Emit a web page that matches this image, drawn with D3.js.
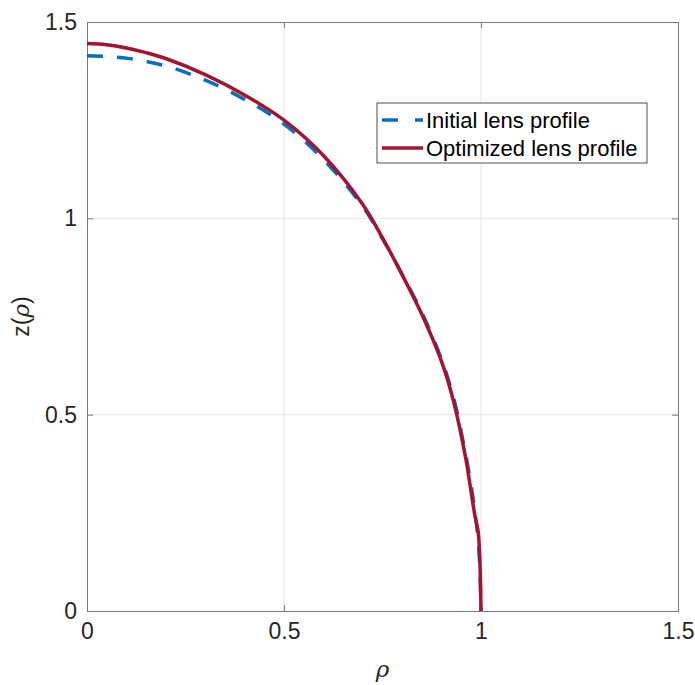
<!DOCTYPE html>
<html>
<head>
<meta charset="utf-8">
<script src="https://cdn.jsdelivr.net/npm/d3@7"></script>
<style>
  body { margin: 0; background: #fff; }
  svg { display: block; font-family: "Liberation Sans", Arial, sans-serif; }
</style>
</head>
<body>
<div id="viz"></div>
<script>
// values
var rhoInitial = [0, 0.1, 0.2, 0.3, 0.4, 0.5, 0.6, 0.7, 0.75, 0.8, 0.85, 0.9, 0.93, 0.95, 0.97, 0.985, 0.995, 1.0];
var zInitial   = [1.414, 1.408, 1.388, 1.352, 1.303, 1.24, 1.15, 1.03, 0.948, 0.857, 0.76, 0.64, 0.545, 0.455, 0.35, 0.25, 0.15, 0];

var rhoOptimized = [0, 0.05, 0.1, 0.15, 0.2, 0.3, 0.4, 0.5, 0.6, 0.7, 0.75, 0.8, 0.85, 0.9, 0.93, 0.962, 0.97, 0.985, 0.993, 1.0];
var zOptimized   = [1.445, 1.442, 1.434, 1.422, 1.407, 1.366, 1.314, 1.25, 1.16, 1.035, 0.95, 0.856, 0.755, 0.635, 0.535, 0.385, 0.335, 0.24, 0.2, 0];

var xTicks = [0, 0.5, 1, 1.5];
var yTicks = [0, 0.5, 1, 1.5];
var seriesNames = ['Initial lens profile', 'Optimized lens profile'];

var width = 695, height = 685;
var margin = { top: 22, right: 17, bottom: 74, left: 87 };
var w = width - margin.left - margin.right;
var h = height - margin.top - margin.bottom;

var svg = d3.select('#viz').append('svg').attr('width', width).attr('height', height);
var g = svg.append('g').attr('transform', 'translate(' + margin.left + ',' + margin.top + ')');

var x = d3.scaleLinear().domain([0, 1.5]).range([0, w]);
var y = d3.scaleLinear().domain([0, 1.5]).range([h, 0]);

// grid
g.selectAll('.gx').data(xTicks.slice(1, -1)).enter().append('line')
    .attr('x1', d => x(d)).attr('x2', d => x(d)).attr('y1', 0).attr('y2', h)
    .attr('stroke', '#e6e6e6').attr('stroke-width', 1);
g.selectAll('.gy').data(yTicks.slice(1, -1)).enter().append('line')
    .attr('y1', d => y(d)).attr('y2', d => y(d)).attr('x1', 0).attr('x2', w)
    .attr('stroke', '#e6e6e6').attr('stroke-width', 1);

// axes (inner ticks on all four sides)
var tl = 6;
function styleAxis(sel) {
    sel.select('.domain').attr('stroke', '#7a7a7a');
    sel.selectAll('.tick line').attr('stroke', '#7a7a7a');
    sel.selectAll('.tick text').attr('fill', '#262626').style('font-size', '23px');
}
g.append('g').attr('transform', 'translate(0,' + h + ')')
    .call(d3.axisBottom(x).tickValues(xTicks).tickSize(-tl).tickPadding(12).tickFormat(d3.format('')))
    .call(styleAxis);
g.append('g')
    .call(d3.axisTop(x).tickValues(xTicks).tickSize(-tl).tickFormat(''))
    .call(styleAxis);
g.append('g')
    .call(d3.axisLeft(y).tickValues(yTicks).tickSize(-tl).tickPadding(10).tickFormat(d3.format('')))
    .call(styleAxis);
g.append('g').attr('transform', 'translate(' + w + ',0)')
    .call(d3.axisRight(y).tickValues(yTicks).tickSize(-tl).tickFormat(''))
    .call(styleAxis);
g.selectAll('.domain').attr('stroke-width', 1);

// lines
var line = d3.line().x(d => x(d[0])).y(d => y(d[1])).curve(d3.curveCatmullRom.alpha(0.5));
var initial = rhoInitial.map((r, i) => [r, zInitial[i]]);
var optimized = rhoOptimized.map((r, i) => [r, zOptimized[i]]);

g.append('path').datum(initial).attr('d', line)
    .attr('fill', 'none').attr('stroke', '#0072BD').attr('stroke-width', 3.5)
    .attr('stroke-dasharray', '16,14');
g.append('path').datum(optimized).attr('d', line)
    .attr('fill', 'none').attr('stroke', '#A2142F').attr('stroke-width', 3.5);

// axis labels
svg.append('text')
    .attr('x', margin.left + w / 2).attr('y', 677)
    .attr('text-anchor', 'middle').attr('fill', '#262626')
    .style('font-size', '23px').style('font-style', 'italic')
    .style('font-family', '"DejaVu Serif", serif')
    .text('ρ');
var yl = svg.append('text')
    .attr('transform', 'translate(29,' + (margin.top + h / 2) + ') rotate(-90)')
    .attr('text-anchor', 'middle').attr('fill', '#262626')
    .style('font-size', '23px');
yl.append('tspan').text('z(');
yl.append('tspan').style('font-style', 'italic').style('font-family', '"DejaVu Serif", serif').text('ρ');
yl.append('tspan').text(')');

// legend
var lg = svg.append('g').attr('transform', 'translate(377,103)');
lg.append('rect').attr('width', 270).attr('height', 60)
    .attr('fill', '#fff').attr('stroke', '#262626').attr('stroke-width', 0.8);
var colors = ['#0072BD', '#A2142F'];
var dashes = ['16,17', null];
seriesNames.forEach(function(name, i) {
    var cy = 17 + i * 28;
    lg.append('line').attr('x1', 5).attr('x2', 46).attr('y1', cy).attr('y2', cy)
        .attr('stroke', colors[i]).attr('stroke-width', 3.5)
        .attr('stroke-dasharray', dashes[i]);
    lg.append('text').attr('x', 49).attr('y', cy + 8)
        .attr('fill', '#000').style('font-size', '22px').text(name);
});
</script>
</body>
</html>
